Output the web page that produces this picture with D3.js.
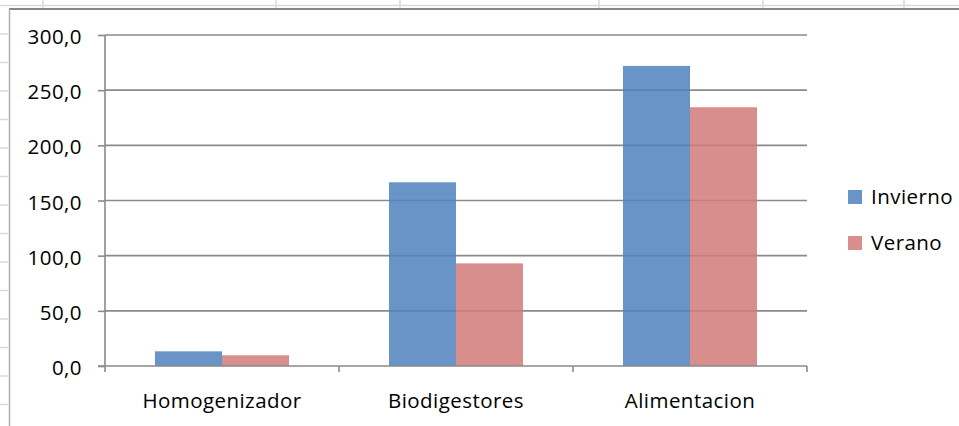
<!DOCTYPE html>
<html>
<head>
<meta charset="utf-8">
<script src="https://cdn.jsdelivr.net/npm/d3@7"></script>
<style>
  html, body { margin: 0; padding: 0; background: #fff; }
  svg { display: block; }
  text { font-family: "Open Sans", sans-serif; font-size: 20.5px; fill: #000; letter-spacing: 0.45px; }
</style>
</head>
<body>
<div id="chart"></div>
<script>
// data
const categories = ["Homogenizador", "Biodigestores", "Alimentacion"];
const seriesNames = ["Invierno", "Verano"];
const invierno = [13.3, 166.5, 272.0];
const verano = [9.7, 93.0, 234.5];
const yTicks = [0, 50, 100, 150, 200, 250, 300];

const W = 959, H = 426;
const colors = { Invierno: "#4F81BD", Verano: "#D17A78" };

const svg = d3.select("#chart").append("svg")
    .attr("width", W)
    .attr("height", H);

// spreadsheet cells behind the chart object
const sheet = svg.append("g").attr("stroke", "#dadada").attr("stroke-width", 1.5);
sheet.append("line").attr("x1", 0).attr("x2", W).attr("y1", 5.5).attr("y2", 5.5);
[43, 276, 400, 599, 763, 904].forEach(x => {
    sheet.append("line").attr("x1", x).attr("x2", x).attr("y1", 0).attr("y2", 8);
});
d3.range(34, H, 28.5).forEach(y => {
    sheet.append("line").attr("x1", 0).attr("x2", 8).attr("y1", y).attr("y2", y);
});

// chart frame
svg.append("line").attr("x1", 9).attr("x2", W).attr("y1", 9).attr("y2", 9)
    .attr("stroke", "#868686").attr("stroke-width", 2);
svg.append("line").attr("x1", 9.5).attr("x2", 9.5).attr("y1", 9).attr("y2", H)
    .attr("stroke", "#b0b0b0").attr("stroke-width", 1.5);

const margin = { top: 35, left: 105 };
const width = 702;
const height = 331;

const g = svg.append("g")
    .attr("transform", "translate(" + margin.left + "," + margin.top + ")");

const x = d3.scaleBand()
    .domain(categories)
    .range([0, width])
    .paddingInner(100 / 234)
    .paddingOuter(50 / 234);

const xOuter = d3.scaleBand().domain(categories).range([0, width]);

const xSub = d3.scaleBand()
    .domain(seriesNames)
    .range([0, x.bandwidth()]);

const y = d3.scaleLinear()
    .domain([0, 300])
    .range([height, 0]);

// gridlines
g.append("g")
    .selectAll("line")
    .data(yTicks.slice(1))
    .enter()
    .append("line")
    .attr("x1", 0)
    .attr("x2", width)
    .attr("y1", d => y(d))
    .attr("y2", d => y(d))
    .attr("stroke", "#8a8a8a")
    .attr("stroke-width", 1.6);

// bars
const rows = categories.map((c, i) => ({ cat: c, Invierno: invierno[i], Verano: verano[i] }));
const groups = g.selectAll(".grp")
    .data(rows)
    .enter()
    .append("g")
    .attr("class", "grp")
    .attr("transform", d => "translate(" + x(d.cat) + ",0)");

groups.selectAll("rect")
    .data(d => seriesNames.map(s => ({ s: s, v: d[s] })))
    .enter()
    .append("rect")
    .attr("x", d => xSub(d.s))
    .attr("width", xSub.bandwidth())
    .attr("y", d => y(d.v))
    .attr("height", d => height - y(d.v))
    .attr("fill", d => colors[d.s])
    .attr("fill-opacity", 0.85);

// y axis
const yAxis = g.append("g")
    .call(d3.axisLeft(y).tickValues(yTicks).tickSize(7).tickPadding(16)
        .tickFormat(d => d3.format(".1f")(d).replace(".", ",")));
yAxis.select(".domain").attr("stroke", "#8a8a8a").attr("stroke-width", 1.6)
    .attr("d", "M0," + (height + 0.5) + "V0");
yAxis.selectAll(".tick line").attr("stroke", "#8a8a8a").attr("stroke-width", 1.6);
yAxis.selectAll(".tick text").attr("font-size", null).attr("font-family", null)
    .attr("dy", "0.42em").attr("fill", "#000");

// x axis
const xAxis = g.append("g")
    .attr("transform", "translate(0," + height + ")");
xAxis.append("line")
    .attr("x1", -7).attr("x2", width)
    .attr("stroke", "#8a8a8a").attr("stroke-width", 1.6);
xAxis.selectAll(".xtick")
    .data(categories.concat(["end"]))
    .enter()
    .append("line")
    .attr("x1", (d, i) => i < categories.length ? xOuter(d) : width)
    .attr("x2", (d, i) => i < categories.length ? xOuter(d) : width)
    .attr("y1", 0)
    .attr("y2", 6)
    .attr("stroke", "#8a8a8a")
    .attr("stroke-width", 1.6);
xAxis.selectAll(".xlabel")
    .data(categories)
    .enter()
    .append("text")
    .attr("x", d => x(d) + x.bandwidth() / 2)
    .attr("y", 42)
    .attr("text-anchor", "middle")
    .text(d => d);

// legend
const legend = svg.append("g")
    .attr("transform", "translate(848,190)");
const items = legend.selectAll(".legend_item")
    .data(seriesNames)
    .enter()
    .append("g")
    .attr("class", "legend_item")
    .attr("transform", (d, i) => "translate(0," + i * 46 + ")");
items.append("rect")
    .attr("width", 14)
    .attr("height", 14)
    .attr("fill", d => colors[d])
    .attr("fill-opacity", 0.85);
items.append("text")
    .attr("x", 23)
    .attr("y", 14)
    .text(d => d);
</script>
</body>
</html>
